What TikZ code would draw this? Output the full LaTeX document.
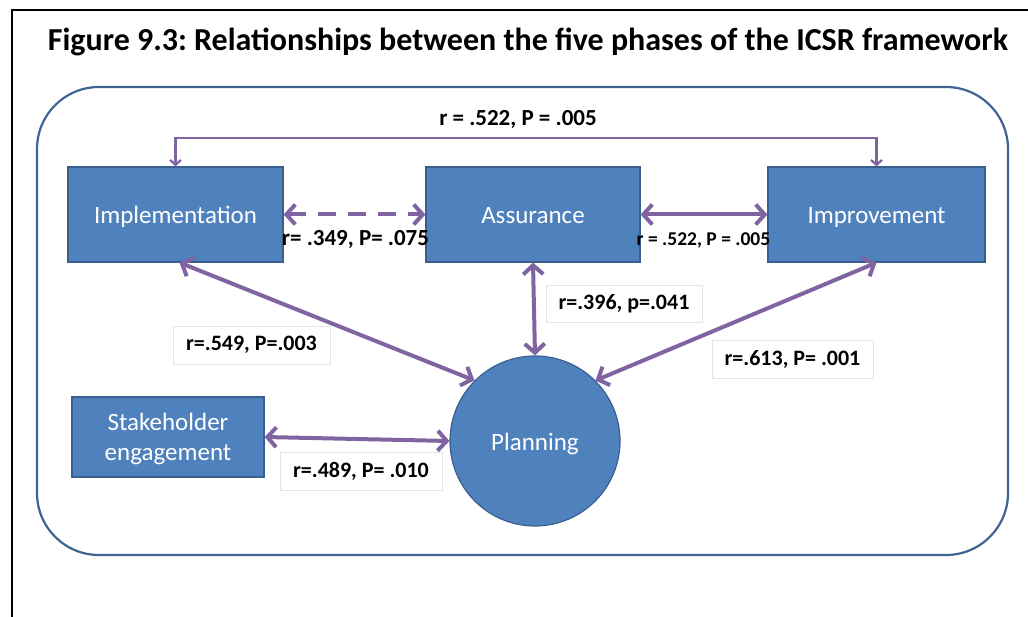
\documentclass[tikz,border=0pt]{standalone}
\usepackage{fontspec}
\setmainfont{Carlito}
\frenchspacing
\usetikzlibrary{arrows.meta}
\definecolor{boxblue}{HTML}{4F81BD}
\definecolor{boxedge}{HTML}{3A5F8E}
\definecolor{frameblue}{HTML}{3F6493}
\definecolor{conn}{HTML}{8064A2}
\tikzset{
  phase/.style={rectangle, fill=boxblue, draw=boxedge, line width=1.2pt, text=white, inner sep=0pt,
    font=\fontsize{25}{29.5}\selectfont, align=center},
  phaseone/.style={phase, text height=20pt, text depth=2pt},
  planet/.style={circle, fill=boxblue, draw=boxedge, line width=1.2pt, text=white, inner sep=0pt,
    minimum size=170pt, font=\fontsize{25}{29}\selectfont, text height=20pt, text depth=2pt},
  lab/.style={font=\bfseries\fontsize{22}{26}\selectfont, inner sep=0pt},
  labbox/.style={font=\bfseries\fontsize{22}{26}\selectfont, draw=black!10, line width=0.6pt, fill=white, inner sep=0pt},
  link/.style={draw=conn, line width=4pt, {Straight Barb[length=9pt,width=20pt,line width=4pt]}-{Straight Barb[length=9pt,width=20pt,line width=4pt]}},
  thinlink/.style={draw=conn, line width=2.2pt, -{Straight Barb[length=5pt,width=11pt,line width=2.2pt]}},
}
\begin{document}
\begin{tikzpicture}[x=1pt,y=-1pt]
\useasboundingbox (0,0) rectangle (1028,617);
% page frame
\draw[line width=1.5pt] (12,617) -- (12,10) -- (1028,10);
% title
\node[font=\bfseries\fontsize{32}{38}\selectfont, inner sep=0pt] (title) at (528,42) {Figure 9.3: Relationships between the five phases of the ICSR framework};
% outer rounded box
\draw[frameblue, line width=2.2pt, rounded corners=62pt] (37,87) rectangle (1008,555);
% phases
\node[phaseone, minimum width=215pt, minimum height=95pt] (impl) at (175.5,214.5) {Implementation};
\node[phaseone, minimum width=214pt, minimum height=95pt] (assu) at (533,214.5) {Assurance};
\node[phaseone, minimum width=217pt, minimum height=95pt] (impr) at (876.5,214.5) {Improvement};
\node[phase, minimum width=192pt, minimum height=80pt, text depth=0pt] (stake) at (168,437) {Stakeholder\\engagement};
\node[planet] (plan) at (535,441) {Planning};
% top connector
\coordinate (tl) at (175.5,138);
\coordinate (tr) at (876.5,138);
\draw[thinlink] (tl) -- (impl.north);
\draw[thinlink] (tr) -- (impr.north);
\draw[draw=conn, line width=2.2pt, line cap=rect] (tl) -- (tr);
\node[lab, font=\bfseries\fontsize{23}{27}\selectfont] (l0) at (518,120) {r = .522, P = .005};
% connectors
\draw[link, dashed, dash pattern=on 18pt off 12pt] (impl.east) -- (assu.west);
\node[lab, font=\bfseries\fontsize{23}{27}\selectfont] (l1) at (355.5,240) {r= .349, P= .075};
\draw[link] (assu.east) -- (impr.west);
\node[lab, font=\bfseries\fontsize{19.5}{23}\selectfont] (l2) at (703.5,240) {r = .522, P = .005};
\draw[link] (assu.south) -- (plan.north);
\node[labbox, minimum width=156pt, minimum height=37pt] (l3) at (624,303.5) {r=.396, p=.041};
\draw[link] ([xshift=4pt]impl.south) -- (plan.135);
\node[labbox, minimum width=157pt, minimum height=38pt] (l4) at (251.5,345) {r=.549, P=.003};
\draw[link] (impr.south) -- (plan.45);
\node[labbox, minimum width=161pt, minimum height=38pt] (l5) at (792.5,359) {r=.613, P= .001};
\draw[link] (stake.east) -- (plan.west);
\node[labbox, minimum width=162pt, minimum height=38pt] (l6) at (361,471) {r=.489, P= .010};
\end{tikzpicture}
\end{document}
